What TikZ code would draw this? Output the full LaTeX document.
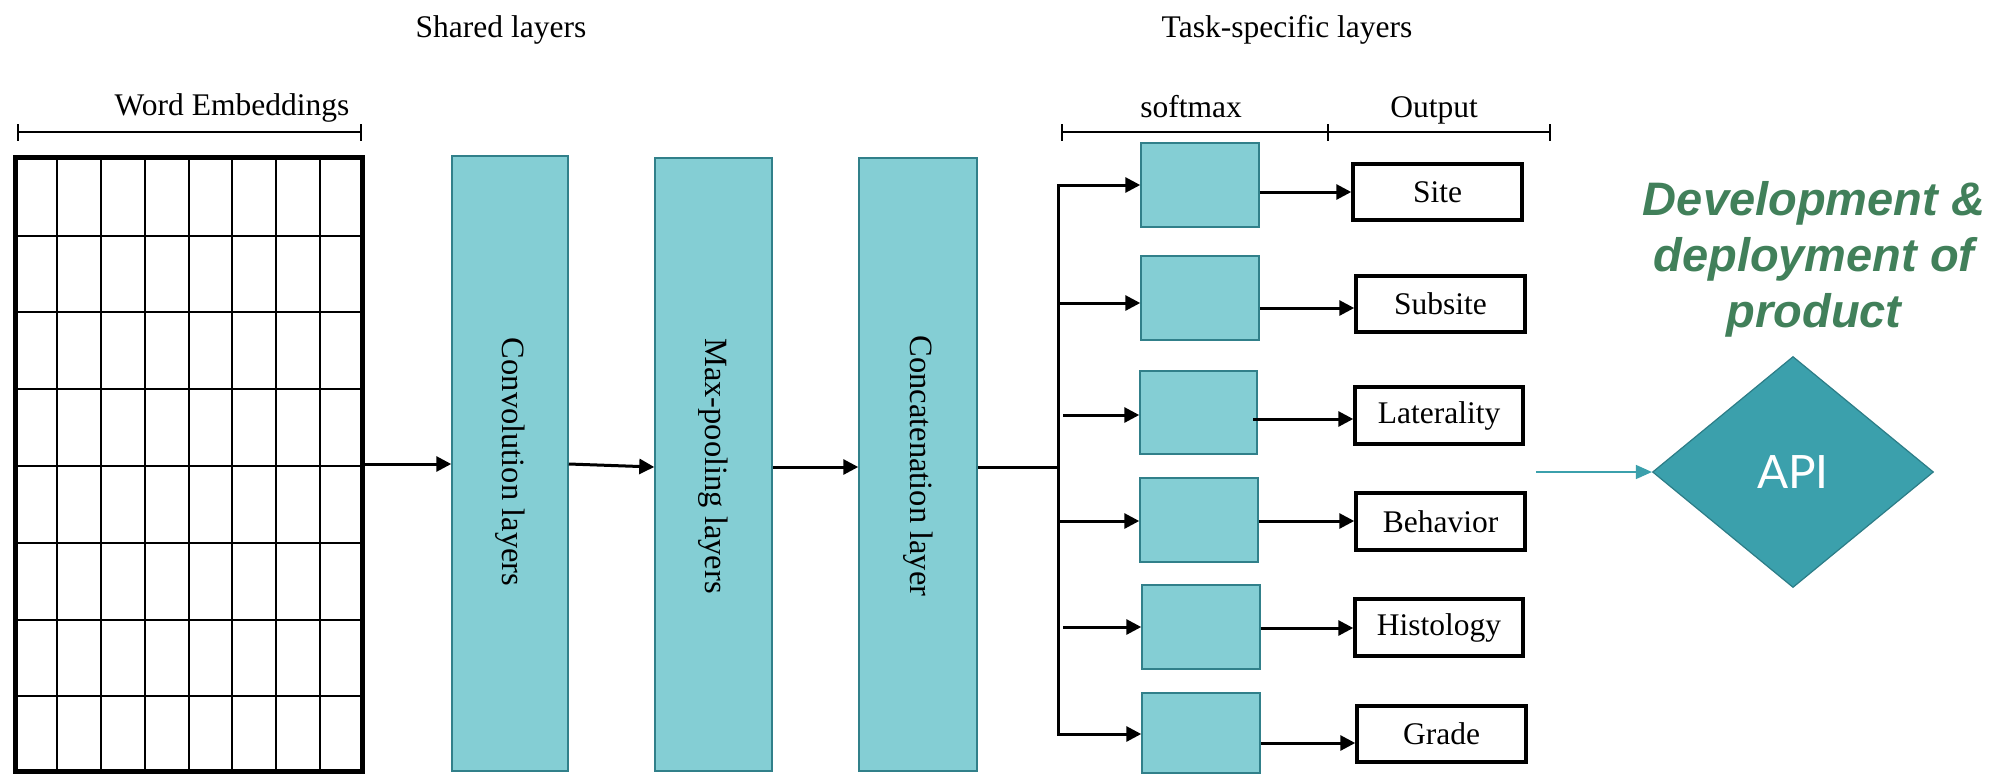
\documentclass[tikz,border=0pt]{standalone}
\usepackage{fontspec}
\setmainfont{Liberation Serif}
\newfontfamily\devfont{Liberation Sans}
\newfontfamily\apifont{Lato}
\usetikzlibrary{arrows.meta,shapes.geometric,fit}
\definecolor{boxfill}{HTML}{84CED4}
\definecolor{boxline}{HTML}{31808A}
\definecolor{diafill}{HTML}{3BA0AC}
\definecolor{dialine}{HTML}{2C7D87}
\definecolor{devgreen}{HTML}{41805A}
\begin{document}
\begin{tikzpicture}[x=1pt,y=-1pt,
  txt/.style={font=\fontsize{31.5}{36}\selectfont, inner sep=0pt},
  vtxt/.style={font=\fontsize{32.5}{36}\selectfont, inner sep=0pt, rotate=-90},
  tealbox/.style={draw=boxline, fill=boxfill, line width=1.5pt, inner sep=0pt},
  outbox/.style={draw=black, line width=3.5pt, inner sep=0pt, font=\fontsize{31.5}{36}\selectfont},
  arr/.style={line width=3pt, line join=miter, -{Triangle[length=15pt,width=15pt]}},
  arrboth/.style={line width=3pt, line join=miter, {Triangle[length=15pt,width=15pt]}-{Triangle[length=15pt,width=15pt]}},
  plain/.style={line width=3pt},
  brk/.style={line width=2pt},
  gridline/.style={line width=2.3pt},
  tealarr/.style={draw=diafill, line width=1.5pt, -{Triangle[length=16pt,width=14pt]}}
]
\useasboundingbox (0,0) rectangle (1993,774);

% titles
\node[txt, anchor=base] (shared) at (501,37) {Shared layers};
\node[txt, anchor=base] (task) at (1287,37) {Task-specific layers};

% word embeddings bracket
\node[txt, anchor=base] (wordlbl) at (232,115) {Word Embeddings};
\draw[brk] (18,132) -- (361,132);
\draw[brk] (18,124) -- (18,141);
\draw[brk] (361,124) -- (361,141);

% softmax / output bracket
\node[txt, anchor=base] (softlbl) at (1191,117) {softmax};
\node[txt, anchor=base] (outlbl) at (1434,117) {Output};
\draw[brk] (1062,132) -- (1550,132);
\foreach \x in {1062,1328,1550} \draw[brk] (\x,124) -- (\x,141);

% embedding grid
\foreach \x in {57,101,145,189,232,276,320} \draw[gridline] (\x,157) -- (\x,772);
\foreach \y in {236,312,389,466,543,620,696} \draw[gridline] (15,\y) -- (362,\y);
\node[draw, line width=5pt, inner sep=0pt, fit={(15,157) (362,771)}] (emb) {};

% shared layer boxes
\node[tealbox, fit={(452,156) (568,771)}] (conv) {};
\node[tealbox, fit={(655,158) (772,771)}] (maxp) {};
\node[tealbox, fit={(859,158) (977,771)}] (concat) {};
\node[vtxt] (convtxt) at (510,462) {Convolution layers};
\node[vtxt] (maxptxt) at (713,466) {Max-pooling layers};
\node[vtxt] (concattxt) at (918,466) {Concatenation layer};

\draw[arr] (emb.east |- 0,464) -- (conv.west |- 0,464);
\draw[arr] (conv.east |- 0,464) -- (maxp.west |- 0,467);
\draw[arr] (maxp.east |- 0,467) -- (concat.west |- 0,467);

% softmax boxes
\node[tealbox, fit={(1141,143) (1259,227)}] (s1) {};
\node[tealbox, fit={(1141,256) (1259,340)}] (s2) {};
\node[tealbox, fit={(1140,371) (1257,454)}] (s3) {};
\node[tealbox, fit={(1140,478) (1258,562)}] (s4) {};
\node[tealbox, fit={(1142,585) (1260,669)}] (s5) {};
\node[tealbox, fit={(1142,693) (1260,773)}] (s6) {};

% output boxes
\node[outbox, fit={(1353,164) (1522,220)}] (site) {};
\node[outbox, fit={(1356,276) (1525,332)}] (subsite) {};
\node[outbox, fit={(1355,387) (1523,444)}] (lat) {};
\node[outbox, fit={(1356,493) (1525,550)}] (beh) {};
\node[outbox, fit={(1355,599) (1523,656)}] (hist) {};
\node[outbox, fit={(1357,706) (1526,762)}] (grade) {};
\node[txt] at (site.center) {Site};
\node[txt] at (subsite.center) {Subsite};
\node[txt] at (lat.center) {Laterality};
\node[txt] at (beh.center) {Behavior};
\node[txt] at (hist.center) {Histology};
\node[txt] at (grade.center) {Grade};

% bus
\coordinate (bustop) at (1058,185);
\coordinate (busbot) at (1058,734);
\coordinate (busjoin) at (1058,467);
\coordinate (b2) at (1058,303);
\coordinate (b4) at (1058,521);
\coordinate (st3) at (1063,415);
\coordinate (st5) at (1063,627);
\draw[plain] (concat.east |- busjoin) -- (busjoin);
\draw[arrboth] (s1.west |- bustop) -- (bustop) -- (busbot) -- (s6.west |- busbot);
\draw[arr] (b2) -- (s2.west |- b2);
\draw[arr] (st3) -- (s3.west |- st3);
\draw[arr] (b4) -- (s4.west |- b4);
\draw[arr] (st5) -- (s5.west |- st5);

% softmax -> output
\draw[arr] (s1.east |- 0,192) -- (site.west |- 0,192);
\draw[arr] (s2.east |- 0,308) -- (subsite.west |- 0,308);
\draw[arr] (1253,419) -- (lat.west |- 0,419);
\draw[arr] (s4.east |- 0,521) -- (beh.west |- 0,521);
\draw[arr] (s5.east |- 0,628) -- (hist.west |- 0,628);
\draw[arr] (s6.east |- 0,743) -- (grade.west |- 0,743);

% deployment
\node[font=\devfont\bfseries\itshape\fontsize{47}{56}\selectfont, text=devgreen, align=center, inner sep=0pt] (dev) at (1814,259) {Development \&\\deployment of\\product};
\node[diamond, draw=dialine, fill=diafill, line width=1.2pt, minimum width=281pt, minimum height=231pt, inner sep=0pt, font=\apifont\fontsize{46}{50}\selectfont, text=white] (api) at (1793,472) {API};
\coordinate (tealstart) at (1536,472);
\draw[tealarr] (tealstart) -- (api.west);
\end{tikzpicture}
\end{document}
